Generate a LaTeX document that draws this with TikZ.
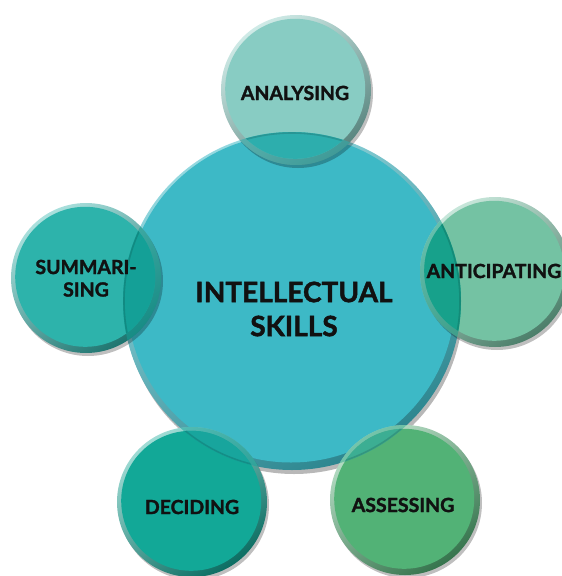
\documentclass[tikz,border=0pt]{standalone}
\usepackage{fontspec}
\setmainfont{Lato}[BoldFeatures={FakeBold=1.6}]
\definecolor{cbase}{HTML}{3DB9C6}
\definecolor{aBase}{HTML}{88CCC3}\definecolor{aOver}{HTML}{2DAEAD}
\definecolor{nBase}{HTML}{74C2A3}\definecolor{nOver}{HTML}{17A18B}
\definecolor{sBase}{HTML}{52B276}\definecolor{sOver}{HTML}{3CAE93}
\definecolor{dBase}{HTML}{12A897}\definecolor{dOver}{HTML}{18A59D}
\definecolor{mBase}{HTML}{2DB3AB}\definecolor{mOver}{HTML}{14A097}
\definecolor{txt}{HTML}{111111}
\newcommand\mybubble[3]{%
  \fill[black, opacity=0.25] ([shift={(2,3)}]#1) circle[radius=75pt];
  \shade[top color=#2!40!white, bottom color=#2!65!black, shading angle=35] (#1) circle[radius=75pt];
  \fill[#2] ([shift={(-0.8,-1.2)}]#1) circle[radius=70pt];
  \begin{scope}
    \clip (cC) circle[radius=169pt];
    \fill[#3, opacity=0.55] (#1) circle[radius=75pt];
    \fill[#3] ([shift={(-0.8,-1.2)}]#1) circle[radius=70pt];
  \end{scope}
  \begin{scope}
    \clip ([shift={(-0.8,-1.2)}]#1) circle[radius=70pt];
    \draw[#3!70!black, opacity=0.45, line width=1.6pt] (cC) circle[radius=168pt];
  \end{scope}
}
\begin{document}
\begin{tikzpicture}[x=1pt,y=-1pt,
  lbl/.style={font=\bfseries\fontsize{19.5}{22}\selectfont, text=txt, align=center, inner sep=0pt},
  big/.style={font=\bfseries\fontsize{28}{34}\selectfont, text=txt, align=center, inner sep=0pt}]
\path[use as bounding box] (0,0) rectangle (562,576);
\clip (0,0) rectangle (562,576);
\coordinate (cC) at (292,301);
\coordinate (cA) at (296,90);
\coordinate (cN) at (495,272);
\coordinate (cS) at (405,500);
\coordinate (cD) at (192,502);
\coordinate (cM) at (86,278);
% central circle
\fill[black, opacity=0.28] ([shift={(2,4)}]cC) circle[radius=169pt];
\shade[top color=cbase!55!white, bottom color=cbase!72!black, shading angle=30] (cC) circle[radius=169pt];
\fill[cbase] ([shift={(-1,-2.5)}]cC) circle[radius=164pt];
% satellites
\mybubble{cA}{aBase}{aOver}
\mybubble{cN}{nBase}{nOver}
\mybubble{cS}{sBase}{sOver}
\mybubble{cD}{dBase}{dOver}
\mybubble{cM}{mBase}{mOver}
% labels
\node[big] (tC1) at (294,292) {INTELLECTUAL};
\node[big] (tC2) at (294,326) {SKILLS};
\node[lbl] (tA) at (295,93) {ANALYSING};
\node[lbl] (tN) at (494,271) {ANTICIPATING};
\node[lbl] (tS) at (403,505) {ASSESSING};
\node[lbl] (tD) at (192,507) {DECIDING};
\node[lbl] (tM1) at (86,267) {SUMMARI-};
\node[lbl] (tM2) at (86,289.5) {SING};
\end{tikzpicture}
\end{document}
